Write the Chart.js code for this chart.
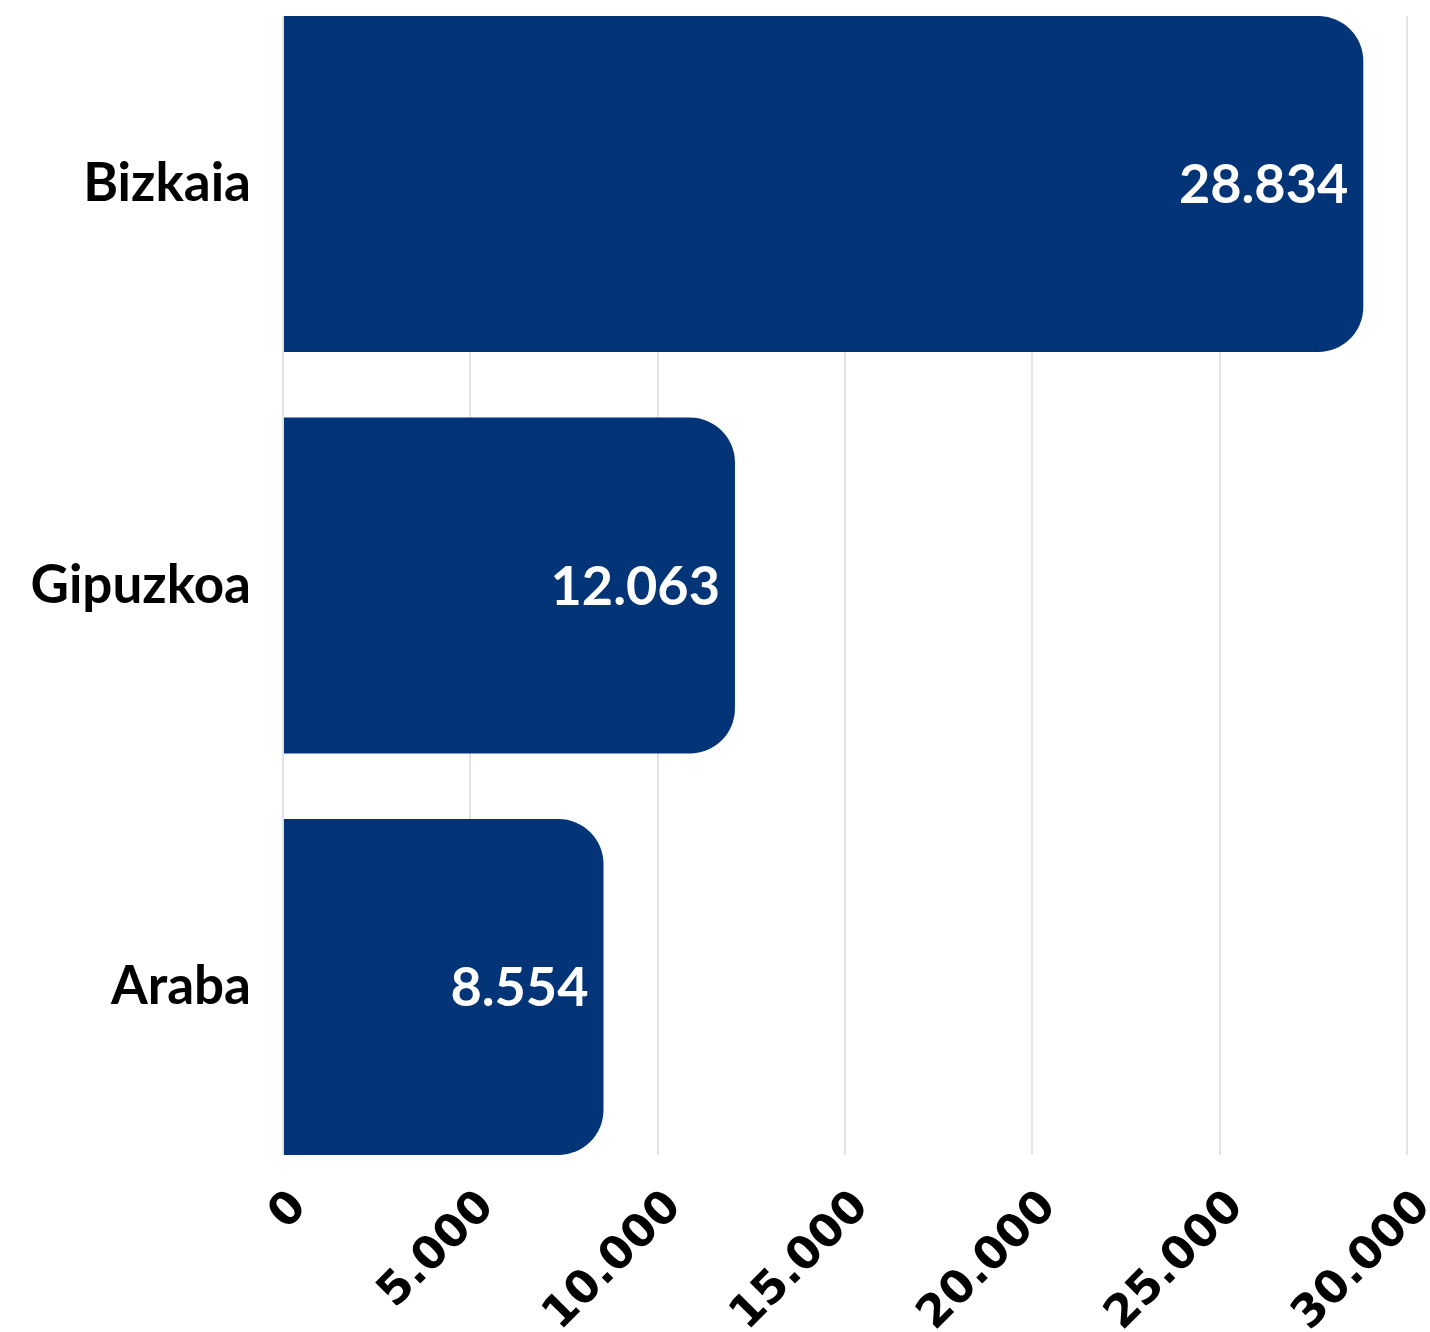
<!DOCTYPE html>
<html>
<head>
<meta charset="utf-8">
<script src="https://cdn.jsdelivr.net/npm/chart.js@4.4.0/dist/chart.umd.min.js"></script>
<style>
  html, body { margin: 0; padding: 0; background: #fff; }
  #wrap { width: 1430px; height: 1332px; position: relative; }
</style>
</head>
<body>
<div id="wrap"><canvas id="chart"></canvas></div>
<script>
const categories = ['Bizkaia', 'Gipuzkoa', 'Araba'];
const values = [28834, 12063, 8554];
const xTicks = [0, 5000, 10000, 15000, 20000, 25000, 30000];

const BAR_COLOR = '#033478';
const fmt = (v) => String(v).replace(/\B(?=(\d{3})+(?!\d))/g, '.');

const valueLabels = {
    id: 'valueLabels',
    afterDatasetsDraw(chart) {
        const ctx = chart.ctx;
        const meta = chart.getDatasetMeta(0);
        ctx.save();
        ctx.fillStyle = '#ffffff';
        ctx.font = "bold 54px 'Lato', sans-serif";
        ctx.textAlign = 'right';
        ctx.textBaseline = 'middle';
        meta.data.forEach((bar, i) => {
            ctx.fillText(fmt(values[i]), bar.x - 15, bar.y + 2);
        });
        ctx.restore();
    }
};

new Chart(document.getElementById('chart'), {
    type: 'bar',
    data: {
        datasets: [{
            data: categories.map((c, i) => ({ x: values[i], y: i })),
            backgroundColor: BAR_COLOR,
            borderRadius: 45,
            borderSkipped: 'start',
            categoryPercentage: 1,
            barPercentage: 0.837
        }]
    },
    options: {
        indexAxis: 'y',
        responsive: true,
        maintainAspectRatio: false,
        animation: false,
        layout: { padding: { top: 16, right: 23, left: 0, bottom: 0 } },
        plugins: { legend: { display: false }, tooltip: { enabled: false } },
        scales: {
            x: {
                type: 'linear',
                min: 0,
                max: 30000,
                afterBuildTicks: (scale) => { scale.ticks = xTicks.map(v => ({ value: v })); },
                afterFit: (scale) => {
                    scale.height = 1332 - 1155;
                    scale.paddingLeft = 0;
                    scale.paddingRight = 0;
                },
                grid: { color: '#e3e3e3', lineWidth: 2, drawTicks: false },
                border: { display: false },
                ticks: {
                    color: '#000',
                    font: { family: "'DejaVu Sans', sans-serif", weight: 'bold', size: 45 },
                    minRotation: 45,
                    maxRotation: 45,
                    padding: 26,
                    labelOffset: 17,
                    callback: (v) => fmt(v)
                }
            },
            y: {
                type: 'linear',
                reverse: true,
                offset: false,
                min: -0.4184,
                max: 2.4184,
                afterBuildTicks: (scale) => { scale.ticks = categories.map((c, i) => ({ value: i })); },
                afterFit: (scale) => {
                    scale.width = 283;
                    scale.paddingTop = 0;
                    scale.paddingBottom = 0;
                },
                grid: { display: false, drawTicks: false, offset: false },
                border: { display: false },
                ticks: {
                    color: '#000',
                    font: { family: "'Lato', sans-serif", weight: 'bold', size: 53 },
                    padding: 32,
                    callback: (v) => categories[v]
                }
            }
        }
    },
    plugins: [valueLabels]
});
</script>
</body>
</html>
